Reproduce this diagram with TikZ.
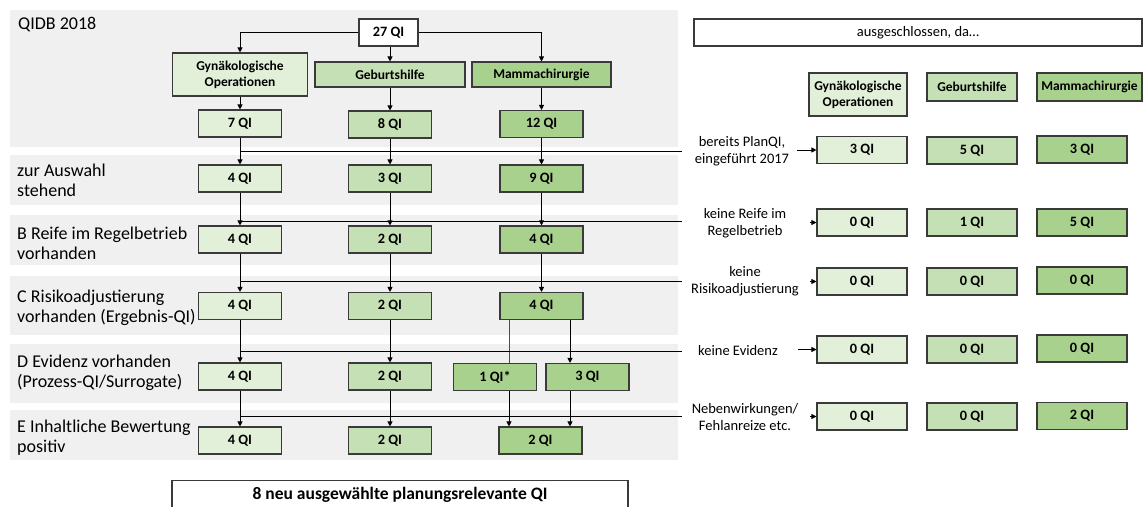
\documentclass[tikz,border=0pt]{standalone}
\usepackage{fontspec}
\setmainfont{Carlito}
\usetikzlibrary{arrows.meta}
\definecolor{bandgray}{HTML}{F0F0F0}
\definecolor{gynfill}{HTML}{E2F0D9}
\definecolor{gebfill}{HTML}{C5E0B4}
\definecolor{mamfill}{HTML}{A9D18E}
\definecolor{edgecol}{HTML}{3A3A3A}
\begin{document}
\begin{tikzpicture}[x=1pt,y=-1pt,
  qbox/.style={draw=edgecol, line width=1.1pt, inner sep=0pt, align=center, font=\bfseries\fontsize{13.5}{16}\selectfont},
  gyn/.style={qbox, fill=gynfill},
  geb/.style={qbox, fill=gebfill},
  mam/.style={qbox, fill=mamfill},
  cell/.style={minimum width=83, minimum height=27, font=\bfseries\fontsize{14.3}{16}\selectfont},
  rcell/.style={minimum width=90, minimum height=27, font=\bfseries\fontsize{14.3}{16}\selectfont},
  band/.style={fill=bandgray, draw=none},
  lab/.style={anchor=west, align=left, inner sep=0pt, font=\fontsize{18}{20}\selectfont},
  rlab/.style={align=center, inner sep=0pt, font=\fontsize{14.5}{17}\selectfont},
  conn/.style={draw=black, line width=0.9pt},
  arr/.style={conn, -{Triangle[length=5pt,width=5pt]}},
]
\useasboundingbox (0,0) rectangle (1143,506);
\fill[white] (0,0) rectangle (1143,506);

% background bands
\fill[band] (10,10) rectangle (678,147);
\fill[band] (10,155) rectangle (678,205);
\fill[band] (10,215) rectangle (678,265);
\fill[band] (10,276) rectangle (678,335);
\fill[band] (10,344) rectangle (678,403);
\fill[band] (10,410) rectangle (678,460);

% left labels
\node[lab] (t0) at (18,25) {QIDB 2018};
\node[lab] (t1) at (17,180) {zur Auswahl\\stehend};
\node[lab] (t2) at (17,243) {B Reife im Regelbetrieb\\vorhanden};
\node[lab] (t3) at (17,308) {C Risikoadjustierung\\vorhanden (Ergebnis-QI)};
\node[lab] (t4) at (17,373) {D Evidenz vorhanden\\(Prozess-QI/Surrogate)};
\node[lab] (t5) at (17,438) {E Inhaltliche Bewertung\\positiv};

% top of flow
\node[qbox, fill=white, minimum width=59, minimum height=27, font=\bfseries\fontsize{14.3}{16}\selectfont] (top) at (388.5,32.5) {27 QI};
\node[gyn, minimum width=135, minimum height=43] (gH) at (240,74.5) {Gynäkologische\\Operationen};
\node[geb, minimum width=150, minimum height=25] (bH) at (390,74.5) {Geburtshilfe};
\node[mam, minimum width=139, minimum height=25] (mH) at (541.5,74.5) {Mammachirurgie};

% rows
\node[gyn, cell] (g0) at (240,123.5) {7 QI};
\node[geb, cell] (b0) at (390,124.5) {8 QI};
\node[mam, cell] (m0) at (541.5,124) {12 QI};

\node[gyn, cell] (g1) at (240,178.5) {4 QI};
\node[geb, cell] (b1) at (390,178.5) {3 QI};
\node[mam, cell] (m1) at (541.5,178.5) {9 QI};

\node[gyn, cell] (g2) at (240,239.5) {4 QI};
\node[geb, cell] (b2) at (390,239.5) {2 QI};
\node[mam, cell] (m2) at (541.5,239.5) {4 QI};

\node[gyn, cell] (g3) at (240,306) {4 QI};
\node[geb, cell] (b3) at (390,306) {2 QI};
\node[mam, cell] (m3) at (541.5,306) {4 QI};

\node[gyn, cell] (g4) at (240,376.5) {4 QI};
\node[geb, cell] (b4) at (390,376.5) {2 QI};
\node[mam, cell] (m4a) at (495,377) {1 QI*};
\node[mam, cell] (m4b) at (587.5,377) {3 QI};

\node[gyn, cell] (g5) at (240,440.5) {4 QI};
\node[geb, cell] (b5) at (390,440.5) {2 QI};
\node[mam, cell] (m5) at (540.5,440.5) {2 QI};

% final box (cut by the page edge)
\node[qbox, fill=white, font=\bfseries\fontsize{17.5}{20}\selectfont, minimum width=456, minimum height=36, anchor=north, text height=13pt, text depth=11pt] (fin) at (400,480) {8 neu ausgewählte planungsrelevante QI};

% connectors from 27 QI
\draw[arr] (top.west) -| (gH.north);
\draw[arr] (top.south -| bH.north) -- (bH.north);
\draw[arr] (top.east) -| (mH.north);

% columns
\draw[arr] (gH.south) -- (g0.north);
\draw[arr] (bH.south) -- (b0.north);
\draw[arr] (mH.south) -- (m0.north);
\foreach \a/\b in {g0/g1,g1/g2,g2/g3,g3/g4,g4/g5,b0/b1,b1/b2,b2/b3,b3/b4,b4/b5,m0/m1,m1/m2,m2/m3}
  \draw[arr] (\a.south) -- (\b.north);

% mamma branch
\coordinate (bx1) at (509,0);
\coordinate (bx2) at (570,0);
\draw[conn, draw=black!70] (m3.south -| bx1) -- (m4a.north -| bx1);
\draw[arr] (m3.south -| bx2) -- (m4b.north -| bx2);
\draw[arr] (m4a.south -| bx1) -- (m5.north -| bx1);
\draw[arr] (m4b.south -| bx2) -- (m5.north -| bx2);

% horizontal exclusion lines
\coordinate (e1) at (682,151);
\coordinate (e2) at (682,221);
\coordinate (e3) at (682,281);
\coordinate (e4) at (682,351);
\coordinate (e5) at (682,416);
\draw[conn] (g0.south |- e1) -- (e1);
\draw[conn] (g1.south |- e2) -- (e2);
\draw[conn] (g2.south |- e3) -- (e3);
\draw[conn] (g3.south |- e4) -- (e4);
\draw[conn] (g4.south |- e5) -- (e5);

% right side
\node[qbox, fill=white, font=\fontsize{14.5}{17}\selectfont, minimum width=448, minimum height=27] (aus) at (918,32.5) {ausgeschlossen, da…};
\node[gyn, minimum width=98, minimum height=43] (rgH) at (858,94.5) {Gynäkologische\\Operationen};
\node[geb, minimum width=90, minimum height=28] (rbH) at (972,87) {Geburtshilfe};
\node[mam, minimum width=105, minimum height=28] (rmH) at (1089.5,87) {Mammachirurgie};

\node[gyn, rcell] (rg1) at (862,150) {3 QI};
\node[geb, rcell] (rb1) at (972,150.5) {5 QI};
\node[mam, rcell] (rm1) at (1082,149.5) {3 QI};

\node[gyn, rcell] (rg2) at (862,222.5) {0 QI};
\node[geb, rcell] (rb2) at (972,222.5) {1 QI};
\node[mam, rcell] (rm2) at (1082,222.5) {5 QI};

\node[gyn, rcell] (rg3) at (862,281.5) {0 QI};
\node[geb, rcell] (rb3) at (972,281.5) {0 QI};
\node[mam, rcell] (rm3) at (1082,280.5) {0 QI};

\node[gyn, rcell] (rg4) at (862,349.5) {0 QI};
\node[geb, rcell] (rb4) at (972,349.5) {0 QI};
\node[mam, rcell] (rm4) at (1082,348.5) {0 QI};

\node[gyn, rcell] (rg5) at (862,416.5) {0 QI};
\node[geb, rcell] (rb5) at (972,416.5) {0 QI};
\node[mam, rcell] (rm5) at (1082,416) {2 QI};

\node[rlab] (l1) at (742,151) {bereits PlanQI,\\eingeführt 2017};
\node[rlab] (l2) at (745,223) {keine Reife im\\Regelbetrieb};
\node[rlab] (l3) at (745,281) {keine\\Risikoadjustierung};
\node[rlab] (l4) at (738,351) {keine Evidenz};
\node[rlab] (l5) at (745,417) {Nebenwirkungen/\\Fehlanreize etc.};

\coordinate (a1) at (797,150);
\coordinate (a2) at (810,222.5);
\coordinate (a3) at (810,281.5);
\coordinate (a4) at (798,349.5);
\coordinate (a5) at (810,416.5);
\draw[arr] (a1) -- (rg1.west);
\draw[arr] (a2) -- (rg2.west);
\draw[arr] (a3) -- (rg3.west);
\draw[arr] (a4) -- (rg4.west);
\draw[arr] (a5) -- (rg5.west);
\end{tikzpicture}
\end{document}
